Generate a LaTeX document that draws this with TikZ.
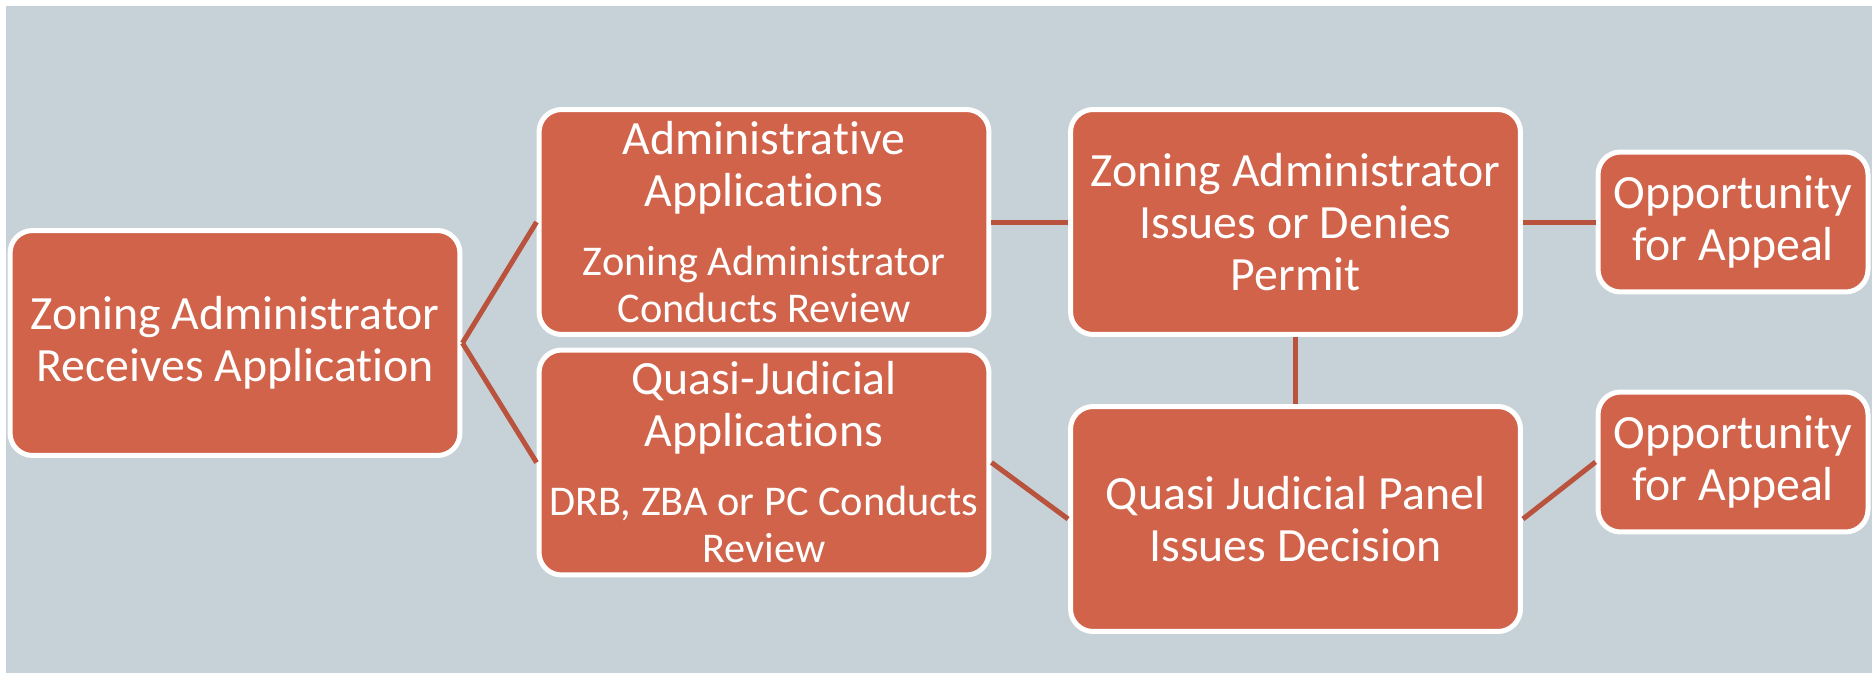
\documentclass[tikz,border=0pt]{standalone}
\usepackage{fontspec}
\setmainfont{Carlito}[Ligatures=NoCommon]
\definecolor{panelgrey}{HTML}{C7D2D8}
\definecolor{stepred}{HTML}{D0634A}
\definecolor{linkred}{HTML}{B9533E}
\newcommand{\bigsz}{\fontsize{27.2pt}{29.6pt}\selectfont}
\newcommand{\smallsz}{\fontsize{24.1pt}{26.7pt}\selectfont}
\begin{document}
\begin{tikzpicture}[x=0.02cm,y=-0.02cm,
    stepbox/.style={draw=white,line width=0.1cm,fill=stepred,rounded corners=0.45cm,
        text=white,align=center,font=\bigsz,inner sep=0pt,
        minimum width=9cm,minimum height=4.5cm},
    appealbox/.style={stepbox,minimum width=5.4cm,minimum height=2.8cm},
    linkline/.style={draw=linkred,line width=0.1cm}]

    \useasboundingbox (0,0) rectangle (1872,673);
    \fill[panelgrey] (6,6) rectangle (1872,673);

    \node[stepbox] (receive) at (235,343) {Zoning Administrator\\Receives Application};
    \node[stepbox] (admin) at (764,222) {Administrative\\Applications\\[0.34cm]\smallsz Zoning Administrator\\[-0.1cm]\smallsz Conducts Review};
    \node[stepbox] (quasi) at (764,462.5) {Quasi-Judicial\\Applications\\[0.34cm]\smallsz DRB, ZBA or PC Conducts\\[-0.1cm]\smallsz Review};
    \node[stepbox] (permit) at (1295.5,222) {Zoning Administrator\\Issues or Denies\\Permit};
    \node[stepbox] (panel) at (1295.5,519) {Quasi Judicial Panel\\Issues Decision};
    \node[appealbox] (appealA) at (1733,222) {Opportunity\\for Appeal};
    \node[appealbox] (appealB) at (1733,462) {Opportunity\\for Appeal};

    \draw[linkline] (receive.east) -- (admin.west);
    \draw[linkline] (receive.east) -- (quasi.west);
    \draw[linkline] (admin.east) -- (permit.west);
    \draw[linkline] (quasi.east) -- (panel.west);
    \draw[linkline] (permit.south) -- (panel.north);
    \draw[linkline] (permit.east) -- (appealA.west);
    \draw[linkline] (panel.east) -- (appealB.west);
\end{tikzpicture}
\end{document}
